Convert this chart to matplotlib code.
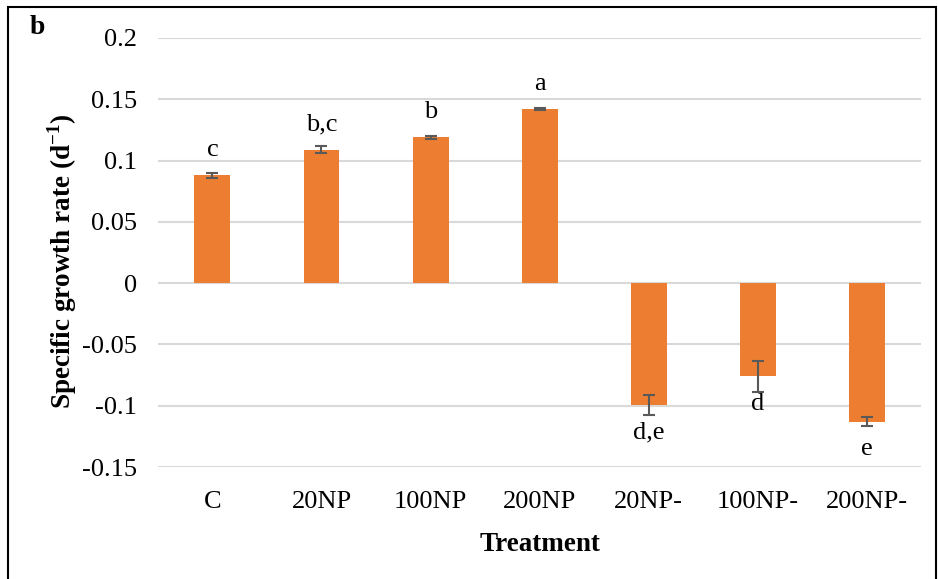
import matplotlib
matplotlib.use('Agg')
import matplotlib.pyplot as plt
from matplotlib.patches import Rectangle

treatments = ['C', '20NP', '100NP', '200NP', '20NP-', '100NP-', '200NP-']
growth = [0.088, 0.109, 0.119, 0.142, -0.0995, -0.076, -0.113]
errors = [0.002, 0.003, 0.001, 0.001, 0.008, 0.0126, 0.0037]
letters = ['c', 'b,c', 'b', 'a', 'd,e', 'd', 'e']

plt.rcParams['font.family'] = ['Liberation Serif', 'DejaVu Serif']
plt.rcParams['mathtext.fontset'] = 'custom'
plt.rcParams['mathtext.rm'] = 'Liberation Serif'
plt.rcParams['mathtext.bf'] = 'Liberation Serif:bold'

fig = plt.figure(figsize=(9.38, 5.79), dpi=100)
ax = fig.add_axes([0.1684, 0.1934, 0.8136, 0.741])

x = range(len(treatments))
ax.bar(x, growth, width=0.33, color='#ED7D31', zorder=2)
ax.errorbar(x, growth, yerr=errors, fmt='none', ecolor='#595959',
            elinewidth=1.5, capsize=4.5, capthick=1.5, zorder=3)

for i, (v, lab) in enumerate(zip(growth, letters)):
    off = 18 if v > 0 else -20
    ax.annotate(lab, (i, v), xytext=(0, off), textcoords='offset points',
                ha='center', va='center', fontsize=19)

ax.set_ylim(-0.15, 0.2)
ax.set_xlim(-0.5, len(treatments) - 0.5)
ax.set_yticks([-0.15, -0.1, -0.05, 0, 0.05, 0.1, 0.15, 0.2])
ax.set_yticklabels(['-0.15', '-0.1', '-0.05', '0', '0.05', '0.1', '0.15', '0.2'])
ax.set_xticks(list(x))
ax.set_xticklabels(treatments)
ax.tick_params(length=0, labelsize=19)
ax.tick_params(axis='y', pad=15)
ax.tick_params(axis='x', pad=17)
ax.yaxis.grid(True, color='#d9d9d9', linewidth=1.5, zorder=0)
ax.set_axisbelow(True)
for s in ax.spines.values():
    s.set_visible(False)

ax.set_xlabel('Treatment', fontsize=19.5, fontweight='bold', labelpad=14)
fig.text(62 / 938, 1 - 261 / 579, 'Specific growth rate (d$^{\\mathbf{-1}}$)',
         fontsize=19.5, fontweight='bold', rotation=90, ha='center', va='center')

fig.text(37 / 938, 1 - 28 / 579, 'b', fontsize=20, fontweight='bold',
         ha='center', va='center')
fig.patches.append(Rectangle((8 / 938, -0.01), 0.998 - 8 / 938, 1 - 7 / 579 + 0.01,
                             transform=fig.transFigure, fill=False,
                             edgecolor='black', linewidth=1.5))

fig.savefig('out.png', dpi=100)
